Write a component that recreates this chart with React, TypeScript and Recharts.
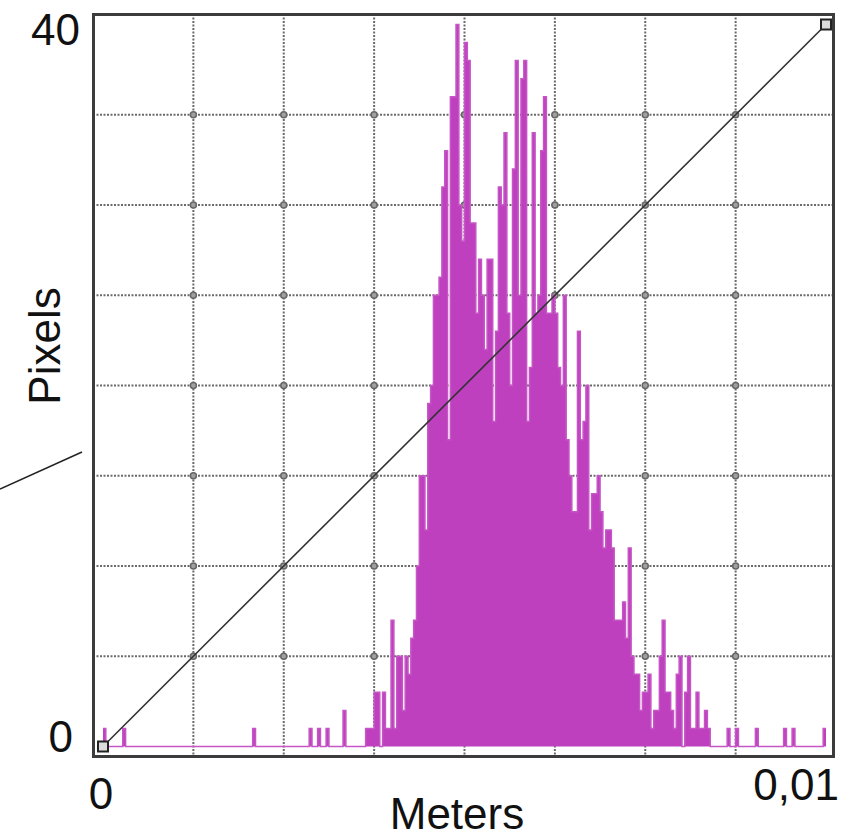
import {
  ComposedChart,
  CartesianGrid,
  XAxis,
  YAxis,
  Area,
  Line,
  ReferenceDot,
  Label,
} from "recharts";

// histogram counts, 256 bins spread over 0 .. 0.01 m
const BIN_COUNTS = [
  1, 0, 0, 0, 0, 0, 0, 1, 0, 0, 0, 0, 0, 0, 0, 0,
  0, 0, 0, 0, 0, 0, 0, 0, 0, 0, 0, 0, 0, 0, 0, 0,
  0, 0, 0, 0, 0, 0, 0, 0, 0, 0, 0, 0, 0, 0, 0, 0,
  0, 0, 0, 0, 0, 1, 0, 0, 0, 0, 0, 0, 0, 0, 0, 0,
  0, 0, 0, 0, 0, 0, 0, 0, 0, 1, 0, 0, 1, 0, 0, 1,
  0, 0, 0, 0, 0, 2, 0, 0, 0, 0, 0, 0, 0, 1, 1, 1,
  3, 3, 0, 3, 1, 1, 7, 1, 5, 5, 2, 5, 4, 6, 7, 10,
  15, 15, 12, 19, 20, 25, 25, 26, 31, 33, 17, 36, 36, 40, 30, 28,
  39, 38, 29, 29, 24, 27, 25, 22, 27, 27, 18, 23, 31, 30, 34, 24,
  20, 32, 38, 25, 37, 38, 18, 21, 34, 24, 25, 33, 36, 24, 24, 25,
  24, 21, 20, 25, 17, 15, 13, 13, 23, 17, 18, 20, 12, 14, 14, 15,
  13, 11, 12, 12, 11, 7, 7, 7, 8, 6, 11, 5, 4, 4, 2, 3,
  3, 4, 1, 2, 2, 5, 7, 3, 3, 2, 1, 4, 5, 0, 3, 5,
  1, 1, 3, 1, 1, 2, 1, 0, 0, 0, 0, 0, 0, 1, 0, 0,
  1, 0, 0, 0, 0, 0, 0, 1, 0, 0, 0, 0, 0, 0, 0, 0,
  0, 1, 0, 0, 1, 0, 0, 0, 0, 0, 0, 0, 0, 0, 0, 1,
];

const X_MAX = 0.01;
const Y_MAX = 40;
const X_TICKS = [0, 0.00125, 0.0025, 0.00375, 0.005, 0.00625, 0.0075, 0.00875, 0.01];
const Y_TICKS = [0, 5, 10, 15, 20, 25, 30, 35, 40];
const X_GRID = X_TICKS.slice(1, -1);
const Y_GRID = Y_TICKS.slice(1, -1);

// straight reference line from origin to the top right corner
const DIAGONAL = [
  { x: 0, y: 0 },
  { x: X_MAX, y: Y_MAX },
];

const binWidth = X_MAX / BIN_COUNTS.length;
const histData = BIN_COUNTS.map((c, i) => ({ x: i * binWidth, count: c }));
histData.push({ x: X_MAX, count: BIN_COUNTS[BIN_COUNTS.length - 1] });

const FONT = "'Liberation Sans', Arial, sans-serif";
const GRID_COLOR = "#6a6a6a";

function XTick(props: any) {
  const { x, y, payload } = props;
  if (payload.value === 0)
    return (
      <text x={x - 2} y={y + 52} textAnchor="middle" fontSize={44} fontFamily={FONT} fill="#111">
        0
      </text>
    );
  if (payload.value === X_MAX)
    return (
      <text x={x + 13} y={y + 43} textAnchor="end" fontSize={44} fontFamily={FONT} fill="#111">
        0,01
      </text>
    );
  return <g />;
}

function YTick(props: any) {
  const { x, y, payload } = props;
  if (payload.value === Y_MAX)
    return (
      <text x={x - 13} y={y + 20.5} textAnchor="end" fontSize={44} fontFamily={FONT} fill="#111">
        40
      </text>
    );
  if (payload.value === 0)
    return (
      <text x={x - 20} y={y + 5} textAnchor="end" fontSize={44} fontFamily={FONT} fill="#111">
        0
      </text>
    );
  return <g />;
}

function SquareDot(props: any) {
  const { cx, cy } = props;
  return <rect x={cx - 5} y={cy - 5} width={10} height={10} fill="#dcdcdc" stroke="#222" strokeWidth={2} />;
}

export default function App() {
  return (
    <div style={{ position: "absolute", left: 0, top: 0, width: 863, height: 838, background: "#fff" }}>
      <ComposedChart
        width={863}
        height={838}
        data={histData}
        margin={{ top: 14, right: 30, bottom: 0, left: 0 }}
      >
        <CartesianGrid
          verticalValues={X_GRID}
          horizontalValues={Y_GRID}
          stroke={GRID_COLOR}
          strokeWidth={2}
          strokeDasharray="2 1.5"
        />
        <XAxis
          type="number"
          dataKey="x"
          domain={[0, X_MAX]}
          ticks={X_TICKS}
          interval={0}
          padding={{ left: 10, right: 7 }}
          height={81.5}
          tickLine={false}
          axisLine={false}
          tickSize={0}
          tickMargin={0}
          tick={<XTick />}
        >
          <Label
            content={(p: any) => (
              <text
                x={p.viewBox.x + 364}
                y={p.viewBox.y + 72.5}
                textAnchor="middle"
                fontSize={44}
                fontFamily={FONT}
                fill="#111"
              >
                Meters
              </text>
            )}
          />
        </XAxis>
        <YAxis
          type="number"
          domain={[0, Y_MAX]}
          ticks={Y_TICKS}
          interval={0}
          width={93}
          padding={{ top: 10.5, bottom: 10 }}
          tickLine={false}
          axisLine={false}
          tickSize={0}
          tickMargin={0}
          tick={<YTick />}
        >
          <Label
            content={(p: any) => {
              const tx = p.viewBox.x + 60;
              const ty = p.viewBox.y + 332;
              return (
                <text
                  x={tx}
                  y={ty}
                  transform={`rotate(-90 ${tx} ${ty})`}
                  textAnchor="middle"
                  fontSize={44}
                  fontFamily={FONT}
                  fill="#111"
                >
                  Pixels
                </text>
              );
            }}
          />
        </YAxis>
        {X_GRID.flatMap((gx) =>
          Y_GRID.map((gy) => (
            <ReferenceDot
              key={"d" + gx + "-" + gy}
              x={gx}
              y={gy}
              r={3}
              fill="#a0a0a0"
              stroke="#666"
              strokeWidth={1.5}
              {...({ zIndex: -100 } as any)}
            />
          ))
        )}
        <Area
          type="stepAfter"
          dataKey="count"
          baseValue={0}
          fill="#be40be"
          fillOpacity={1}
          stroke="#c655c6"
          strokeWidth={1.5}
          dot={false}
          activeDot={false}
          isAnimationActive={false}
        />
        <Line
          data={DIAGONAL}
          dataKey="y"
          type="linear"
          stroke="#333"
          strokeWidth={1.6}
          dot={<SquareDot />}
          activeDot={false}
          isAnimationActive={false}
        />
      </ComposedChart>
      <div
        style={{
          position: "absolute",
          left: 91.5,
          top: 12.5,
          width: 743,
          height: 745.5,
          border: "3px solid #3c3c3c",
          boxSizing: "border-box",
          pointerEvents: "none",
        }}
      />
      <svg width={863} height={838} style={{ position: "absolute", left: 0, top: 0, pointerEvents: "none" }}>
        <line x1={0} y1={489} x2={82} y2={452} stroke="#222" strokeWidth={1.5} />
      </svg>
    </div>
  );
}
